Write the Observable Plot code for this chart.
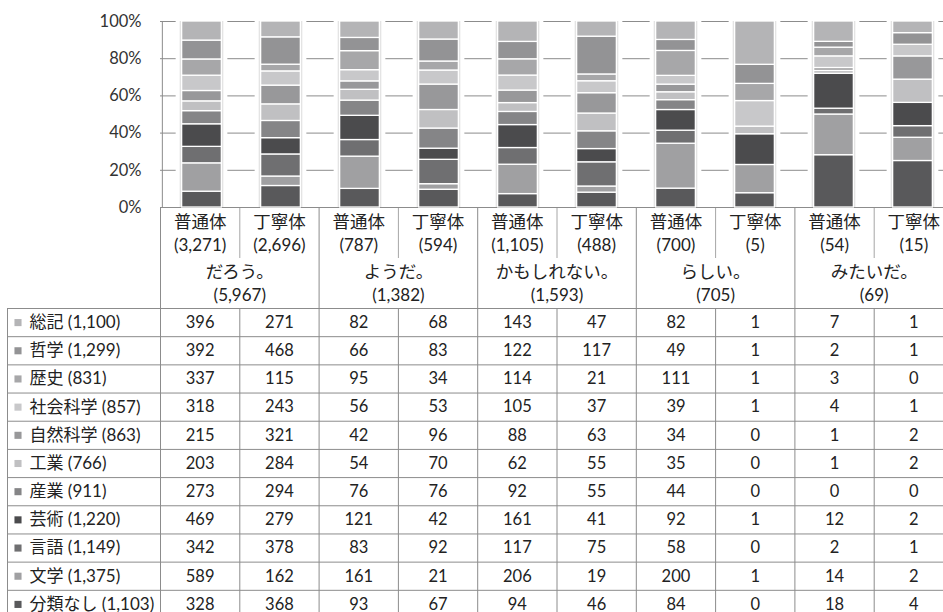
<!DOCTYPE html>
<html><head><meta charset="utf-8">
<script src="https://cdn.jsdelivr.net/npm/d3@7"></script>
<script src="https://cdn.jsdelivr.net/npm/@observablehq/plot@0.6"></script>
<style>
html,body{margin:0;padding:0;background:#fff;overflow:hidden;}
#chart{width:953px;}
#chart svg{display:block;max-width:none !important;background:transparent !important;}
#chart svg.top{overflow:visible;position:relative;z-index:2;}
</style></head><body><div id="chart"></div>
<script>
// ---- data ----
const groups = ["だろう。", "ようだ。", "かもしれない。", "らしい。", "みたいだ。"];
const groupTotals = [5967, 1382, 1593, 705, 69];
const styles = ["普通体", "丁寧体"];
const styleCounts = [3271, 2696, 787, 594, 1105, 488, 700, 5, 54, 15];
const categories = ["総記", "哲学", "歴史", "社会科学", "自然科学", "工業", "産業", "芸術", "言語", "文学", "分類なし"];
const categoryTotals = [1100, 1299, 831, 857, 863, 766, 911, 1220, 1149, 1375, 1103];
const categoryColors = ["#b4b4b6", "#939395", "#a7a7a9", "#c8c8ca", "#98989a", "#c0c0c2", "#858587", "#4b4b4d", "#6f6f71", "#a0a0a2", "#59595b"];
const vSoki     = [396, 271,  82, 68, 143,  47,  82, 1,  7, 1];
const vTetsu    = [392, 468,  66, 83, 122, 117,  49, 1,  2, 1];
const vRekishi  = [337, 115,  95, 34, 114,  21, 111, 1,  3, 0];
const vShakai   = [318, 243,  56, 53, 105,  37,  39, 1,  4, 1];
const vShizen   = [215, 321,  42, 96,  88,  63,  34, 0,  1, 2];
const vKogyo    = [203, 284,  54, 70,  62,  55,  35, 0,  1, 2];
const vSangyo   = [273, 294,  76, 76,  92,  55,  44, 0,  0, 0];
const vGeijutsu = [469, 279, 121, 42, 161,  41,  92, 1, 12, 2];
const vGengo    = [342, 378,  83, 92, 117,  75,  58, 0,  2, 1];
const vBungaku  = [589, 162, 161, 21, 206,  19, 200, 1, 14, 2];
const vNashi    = [328, 368,  93, 67,  94,  46,  84, 0, 18, 4];
// bar of らしい。丁寧体 as drawn in the picture (shares in %, category order)
const rashiiTeineiBar = [22.7, 10, 9, 13.4, 0, 4, 0, 16.1, 0, 14.8, 7.5];
const yTicks = [0, 0.2, 0.4, 0.6, 0.8, 1];

// ---- layout ----
const W = 953, left = 160, colW = (W - left) / 10, barW = 40;
const barInset = (colW - barW) / 2;
const font = "Lato, 'Noto Sans CJK JP', sans-serif";
const lineColor = "#8c8c8c";
const textColor = "#222";
const fmt = d3.format(",");
const counts = [vSoki, vTetsu, vRekishi, vShakai, vShizen, vKogyo, vSangyo, vGeijutsu, vGengo, vBungaku, vNashi];

const cols = groups.flatMap((g, gi) => styles.map((s, si) => ({key: g + s, g, s, i: gi * 2 + si})));
const colKeys = cols.map(c => c.key);

const barData = [];
for (let ci = categories.length - 1; ci >= 0; ci--) {
  for (const c of cols) {
    const value = c.key === "らしい。丁寧体" ? rashiiTeineiBar[ci] : counts[ci][c.i];
    if (value > 0) barData.push({col: c.key, cat: categories[ci], value});
  }
}

const chart = Plot.plot({
  className: "top",
  width: W, height: 208, marginTop: 21, marginBottom: 1, marginLeft: left, marginRight: 0,
  style: {fontFamily: font, fontSize: "16px", color: textColor},
  x: {type: "band", domain: colKeys, padding: 0, axis: null},
  y: {domain: [0, 1], axis: null},
  color: {domain: categories, range: categoryColors},
  marks: [
    Plot.ruleY(yTicks, {y: d => d, stroke: lineColor, strokeOpacity: 1}),
    Plot.ruleX([colKeys[0]], {x: d => d, y1: 0, y2: 1, dx: -colW / 2, stroke: lineColor}),
    Plot.barY(colKeys, {x: d => d, y1: 0, y2: 1, fill: "white", insetLeft: barInset - 6, insetRight: barInset - 6}),
    Plot.barY(colKeys, {x: d => d, y1: 0, y2: 1, fill: "#e4e4e4", insetLeft: barInset - 2, insetRight: barInset - 2}),
    Plot.barY(barData, Plot.stackY({x: "col", y: "value", fill: "cat", offset: "normalize", stroke: "white", strokeWidth: 1.3, insetLeft: barInset, insetRight: barInset})),
    Plot.axisY({ticks: yTicks, tickFormat: d3.format(".0%"), tickSize: 0, tickPadding: 19, fontSize: 16.5, fill: "#333", label: null})
  ]
});

const header = Plot.plot({
  width: W, height: 100, marginTop: 0, marginBottom: 0, marginLeft: left, marginRight: 0,
  style: {fontFamily: font, fontSize: "17px", color: textColor},
  x: {domain: [0, 10], axis: null},
  y: {domain: [0, 4], reverse: true, axis: null},
  marks: [
    Plot.ruleX(d3.range(0, 11, 2), {x: d => d, y1: 0, y2: 4, stroke: lineColor}),
    Plot.ruleX(d3.range(1, 10, 2), {x: d => d, y1: 0, y2: 2, stroke: "#a6a6a6"}),
    Plot.text(cols, {x: c => c.i + 0.5, y: () => 0.5, dy: 1, text: c => c.s, fontSize: 17.5, fill: textColor}),
    Plot.text(cols, {x: c => c.i + 0.5, y: () => 1.5, text: c => `(${fmt(styleCounts[c.i])})`, fill: textColor}),
    Plot.text(groups, {x: (g, i) => 2 * i + 1, y: () => 2.5, dy: 1, text: g => g, fontSize: 17.5, fill: textColor}),
    Plot.text(groups, {x: (g, i) => 2 * i + 1, y: () => 3.5, text: (g, i) => `(${fmt(groupTotals[i])})`, fill: textColor})
  ]
});

const labelX = -(left - 7) / colW;
const cellData = [];
categories.forEach((cat, r) => cols.forEach(c => cellData.push({row: r, col: c.i, v: counts[r][c.i]})));

const body = Plot.plot({
  width: W, height: 310, marginTop: 0, marginBottom: 0, marginLeft: left, marginRight: 0,
  style: {fontFamily: font, fontSize: "16.5px", color: textColor},
  x: {domain: [0, 10], axis: null},
  y: {domain: [0, 11], reverse: true, axis: null},
  color: {domain: categories, range: categoryColors},
  marks: [
    Plot.ruleY(d3.range(0, 12), {y: d => d, x1: labelX, x2: 10, stroke: lineColor}),
    Plot.ruleX([labelX, ...d3.range(0, 11)], {x: d => d, y1: 0, y2: 11, stroke: lineColor}),
    Plot.dot(categories, {x: () => labelX, y: (d, i) => i + 0.5, dx: 10.5, symbol: "square", r: 4, fill: d => d}),
    Plot.text(categories, {x: () => labelX, y: (d, i) => i + 0.5, dx: 22, textAnchor: "start", text: (d, i) => `${d} (${fmt(categoryTotals[i])})`, fontSize: 17, fill: textColor}),
    Plot.text(cellData, {x: d => d.col + 0.5, y: d => d.row + 0.5, text: d => String(d.v), fill: textColor})
  ]
});

const root = document.getElementById("chart");
root.append(chart, header, body);
</script>
</body></html>
